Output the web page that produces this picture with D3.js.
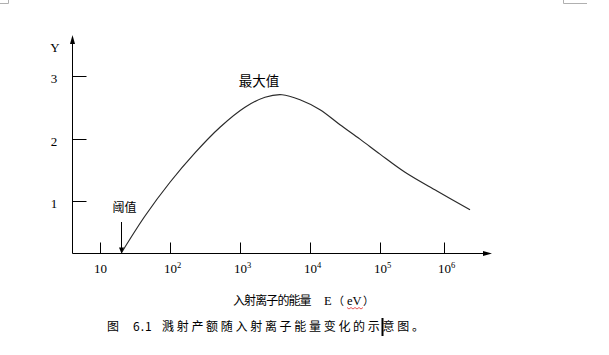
<!DOCTYPE html>
<html><head><meta charset="utf-8">
<script src="https://cdn.jsdelivr.net/npm/d3@7"></script>
<style>
html,body{margin:0;padding:0;background:#fff;}
svg{display:block;}
</style></head>
<body>
<script>
// ---- data ----
const energies = [20, 43.5, 99, 225, 513, 1167, 2254, 3944, 7129, 13770, 26550, 51300, 99000, 244500, 776000, 2560000];
const yieldVals = [0.17, 0.76, 1.30, 1.77, 2.18, 2.50, 2.66, 2.70, 2.62, 2.46, 2.22, 1.99, 1.75, 1.46, 1.16, 0.86];
const xTickVals = [10, 100, 1000, 10000, 100000, 1000000];
const xTickBase = ["10", "10", "10", "10", "10", "10"];
const xTickExp = ["", "2", "3", "4", "5", "6"];
const yTickVals = [1, 2, 3];
const thresholdE = 20;
const peakLabel = "最大值";
const thresholdLabel = "阈值";
const xTitleCN = "入射离子的能量";
const xTitleParts = ["E", "（", "eV", "）"];
const captionHead = ["图", "6.1"];
const captionBody = "溅射产额随入射离子能量变化的示意图。";

const W = 609, H = 355;
const svg = d3.select("body").append("svg").attr("width", W).attr("height", H);

const x = d3.scaleLog().domain([10, 100, 1000, 10000, 100000, 1000000])
  .range([100.3, 170.3, 240.3, 310.3, 380.3, 444]);
const y = d3.scaleLinear().domain([1, 3]).range([201, 76]);
const axisX0 = 72.5, axisY0 = 253.5;
const yTop = 35, xRight = 492;

// corner marks
const g0 = svg.append("g").attr("stroke", "#b0b0b0").attr("fill", "none").attr("stroke-width", 1);
g0.append("path").attr("d", "M0,3.5H8.5V0");
g0.append("path").attr("d", "M563.5,0V3.5H587");

// axes
const ax = svg.append("g").attr("stroke", "#000").attr("stroke-width", 1).attr("fill", "none");
ax.append("line").attr("x1", axisX0).attr("x2", axisX0).attr("y1", axisY0).attr("y2", yTop + 4);
ax.append("line").attr("x1", axisX0).attr("x2", xRight - 6).attr("y1", axisY0).attr("y2", axisY0);
svg.append("path").attr("d", `M${axisX0},${yTop}L${axisX0-2.5},${yTop+9}L${axisX0+2.5},${yTop+9}Z`).attr("fill", "#000");
svg.append("path").attr("d", `M${xRight},${axisY0}L${xRight-9},${axisY0-2.5}L${xRight-9},${axisY0+2.5}Z`).attr("fill", "#000");

// y ticks (inward)
yTickVals.forEach(v => {
  const yy = Math.round(y(v)) + 0.5;
  ax.append("line").attr("x1", axisX0).attr("x2", axisX0 + 14).attr("y1", yy).attr("y2", yy);
  svg.append("text").attr("x", 54).attr("y", yy + 6).attr("text-anchor", "middle")
    .attr("font-family", "Liberation Serif").attr("font-size", 13).text(v);
});
svg.append("text").attr("x", 55).attr("y", 52).attr("text-anchor", "middle")
  .attr("font-family", "Liberation Serif").attr("font-size", 13).text("Y");

// x ticks (up)
xTickVals.forEach((v, i) => {
  const xx = Math.round(x(v)) + 0.5;
  ax.append("line").attr("x1", xx).attr("x2", xx).attr("y1", axisY0).attr("y2", axisY0 - 11);
  const t = svg.append("text").attr("x", xx + (xTickExp[i] ? 2 : 0)).attr("y", 273).attr("text-anchor", "middle")
    .attr("font-family", "Liberation Serif").attr("font-size", 13);
  t.append("tspan").text(xTickBase[i]);
  if (xTickExp[i]) t.append("tspan").attr("font-size", 8.5).attr("dy", -5).text(xTickExp[i]);
});

// curve
const line = d3.line().x((d, i) => x(energies[i])).y((d, i) => y(yieldVals[i])).curve(d3.curveCatmullRom.alpha(0.5));
svg.append("path").datum(energies).attr("d", line).attr("fill", "none").attr("stroke", "#2a2a2a").attr("stroke-width", 1.2);

// threshold arrow
const tx = Math.round(x(thresholdE)) + 0.5;
svg.append("line").attr("x1", tx).attr("x2", tx).attr("y1", 222).attr("y2", axisY0 - 4).attr("stroke", "#000");
svg.append("path").attr("d", `M${tx},${axisY0}L${tx-2.5},${axisY0-6}L${tx+2.5},${axisY0-6}Z`).attr("fill", "#000");
svg.append("text").attr("x", tx + 3).attr("y", 212).attr("text-anchor", "middle")
  .attr("font-family", "Noto Sans CJK SC").attr("font-size", 12).text(thresholdLabel);

// peak label
svg.append("text").attr("x", 259).attr("y", 86).attr("text-anchor", "middle")
  .attr("font-family", "Noto Sans CJK SC").attr("font-size", 13.5).text(peakLabel);

// x title
svg.append("text").attr("x", 233).attr("y", 305).attr("font-family", "Noto Sans CJK SC")
  .attr("font-size", 12).attr("letter-spacing", -0.9).text(xTitleCN);
const partX = [324, 333, 347, 363];
const partFont = ["Liberation Serif", "Noto Sans CJK SC", "Liberation Serif", "Noto Sans CJK SC"];
xTitleParts.forEach((p, i) => {
  svg.append("text").attr("x", partX[i]).attr("y", 305).attr("font-family", partFont[i])
    .attr("font-size", i % 2 ? 11 : 12.5).text(p);
});
// spell-check squiggle under eV
let sq = "M347,307.5";
for (let k = 0; k < 8; k++) sq += `l2,${k % 2 ? -1.5 : 1.5}`;
svg.append("path").attr("d", sq).attr("fill", "none").attr("stroke", "#e03030").attr("stroke-width", 0.8);

// caption
svg.append("text").attr("x", 107).attr("y", 331).attr("font-family", "Noto Sans CJK SC")
  .attr("font-size", 12).text(captionHead[0]);
svg.append("text").attr("x", 133).attr("y", 331).attr("font-family", "Noto Sans CJK SC")
  .attr("font-size", 12).attr("letter-spacing", 1).text(captionHead[1]);
svg.append("text").attr("x", 162).attr("y", 331).attr("font-family", "Noto Sans CJK SC")
  .attr("font-size", 12).attr("letter-spacing", 2.7).text(captionBody);
svg.append("rect").attr("x", 381.5).attr("y", 318).attr("width", 2).attr("height", 18).attr("fill", "#000");
</script>
</body></html>
